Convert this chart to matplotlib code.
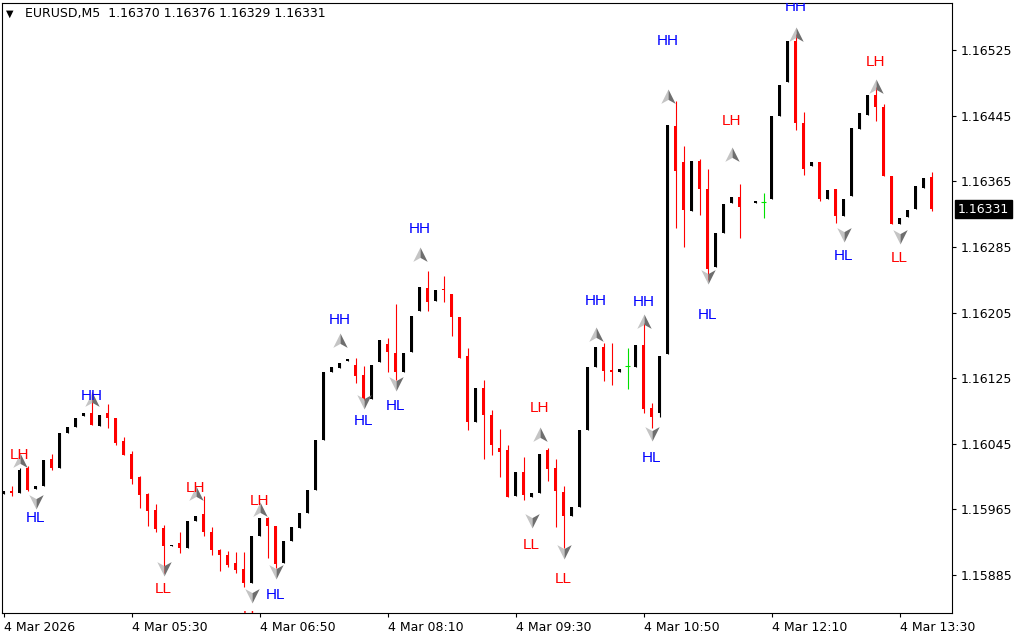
import matplotlib
matplotlib.use("Agg")
import matplotlib.pyplot as plt
from matplotlib.path import Path
from matplotlib.transforms import blended_transform_factory
import numpy as np

nan = float("nan")

# ---------------- data (EURUSD M5, 4 Mar 2026, from 04:10) ----------------
opens = [1.15984, 1.15987, 1.15985, 1.16016, 1.15990, 1.15993, 1.16027, 1.16016, 1.16058, 1.16066,
         1.16079, 1.16083, 1.16067, 1.16082, 1.16077, 1.16048, 1.16033, 1.16004, 1.15984, 1.15964,
         1.15942, 1.15920, 1.15924, 1.15918, 1.15951, 1.15959, 1.15937, 1.15915, 1.15910, 1.15900,
         1.15892, 1.15875, 1.15932, 1.15955, 1.15945, 1.15900, 1.15927, 1.15942, 1.15961, 1.15989,
         1.16050, 1.16132, 1.16137, 1.16146, 1.16141, 1.16129, 1.16100, 1.16145, 1.16167, 1.16156,
         1.16132, 1.16157, 1.16207, 1.16235, 1.16219, 1.16234, 1.16227, 1.16199, 1.16152, 1.16071,
         1.16113, 1.16080, 1.16040, 1.16037, 1.15981, 1.16011, 1.15980, 1.15985, 1.16037, 1.16015,
         1.15986, 1.15957, 1.15968, 1.16062, 1.16138, 1.16163, 1.16134, 1.16133, 1.16140, 1.16139,
         1.16165, 1.16088, 1.16083, 1.16154, 1.16432, 1.16388, 1.16329, 1.16390, 1.16355, 1.16260,
         1.16302, 1.16339, 1.16346, nan, 1.16338, 1.16340, 1.16343, 1.16445, 1.16486, 1.16536,
         1.16436, 1.16383, 1.16388, 1.16343, 1.16355, 1.16323, 1.16347, 1.16429, 1.16446, 1.16470,
         1.16456, 1.16371, 1.16313, 1.16321, 1.16331, 1.16357, 1.16370]
highs = [1.15987, 1.15993, 1.16015, 1.16018, 1.15993, 1.16025, 1.16033, 1.16058, 1.16066, 1.16076,
         1.16083, 1.16108, 1.16080, 1.16094, 1.16077, 1.16053, 1.16036, 1.16006, 1.15985, 1.15972,
         1.15946, 1.15922, 1.15938, 1.15951, 1.15957, 1.15981, 1.15943, 1.15917, 1.15914, 1.15913,
         1.15913, 1.15932, 1.15955, 1.15956, 1.15945, 1.15926, 1.15943, 1.15960, 1.15989, 1.16050,
         1.16132, 1.16138, 1.16143, 1.16148, 1.16149, 1.16140, 1.16141, 1.16171, 1.16174, 1.16215,
         1.16156, 1.16201, 1.16236, 1.16256, 1.16232, 1.16250, 1.16228, 1.16199, 1.16162, 1.16113,
         1.16123, 1.16086, 1.16063, 1.16044, 1.16011, 1.16029, 1.15985, 1.16033, 1.16040, 1.16026,
         1.15993, 1.15968, 1.16062, 1.16139, 1.16163, 1.16168, 1.16168, 1.16136, 1.16162, 1.16166,
         1.16192, 1.16095, 1.16152, 1.16434, 1.16463, 1.16408, 1.16390, 1.16392, 1.16380, 1.16302,
         1.16337, 1.16346, 1.16362, nan, 1.16341, 1.16351, 1.16445, 1.16482, 1.16536, 1.16545,
         1.16449, 1.16388, 1.16389, 1.16354, 1.16356, 1.16343, 1.16430, 1.16448, 1.16470, 1.16480,
         1.16459, 1.16371, 1.16320, 1.16330, 1.16359, 1.16369, 1.16376]
lows = [1.15984, 1.15981, 1.15985, 1.15988, 1.15990, 1.15993, 1.16013, 1.16016, 1.16058, 1.16066,
        1.16079, 1.16068, 1.16067, 1.16064, 1.16044, 1.16031, 1.15996, 1.15967, 1.15945, 1.15937,
        1.15887, 1.15920, 1.15912, 1.15918, 1.15951, 1.15933, 1.15909, 1.15890, 1.15895, 1.15888,
        1.15871, 1.15875, 1.15932, 1.15906, 1.15893, 1.15900, 1.15927, 1.15942, 1.15961, 1.15989,
        1.16050, 1.16132, 1.16137, 1.16146, 1.16119, 1.16098, 1.16100, 1.16145, 1.16132, 1.16123,
        1.16132, 1.16157, 1.16207, 1.16207, 1.16219, 1.16218, 1.16176, 1.16150, 1.16062, 1.16071,
        1.16026, 1.16031, 1.16005, 1.15980, 1.15981, 1.15976, 1.15980, 1.15985, 1.16000, 1.15943,
        1.15918, 1.15957, 1.15968, 1.16062, 1.16138, 1.16122, 1.16117, 1.16133, 1.16112, 1.16139,
        1.16082, 1.16064, 1.16078, 1.16154, 1.16308, 1.16285, 1.16329, 1.16324, 1.16245, 1.16260,
        1.16302, 1.16339, 1.16296, nan, 1.16338, 1.16320, 1.16343, 1.16445, 1.16486, 1.16428,
        1.16373, 1.16383, 1.16341, 1.16343, 1.16314, 1.16323, 1.16347, 1.16429, 1.16446, 1.16439,
        1.16371, 1.16313, 1.16313, 1.16321, 1.16331, 1.16357, 1.16329]
closes = [1.15987, 1.15985, 1.16013, 1.15989, 1.15993, 1.16025, 1.16016, 1.16058, 1.16066, 1.16076,
          1.16083, 1.16068, 1.16080, 1.16077, 1.16046, 1.16031, 1.16002, 1.15982, 1.15963, 1.15941,
          1.15920, 1.15922, 1.15918, 1.15951, 1.15957, 1.15937, 1.15915, 1.15909, 1.15897, 1.15891,
          1.15875, 1.15932, 1.15955, 1.15945, 1.15899, 1.15926, 1.15943, 1.15960, 1.15989, 1.16050,
          1.16132, 1.16138, 1.16143, 1.16148, 1.16128, 1.16100, 1.16141, 1.16171, 1.16157, 1.16132,
          1.16156, 1.16201, 1.16236, 1.16218, 1.16232, 1.16232, 1.16199, 1.16150, 1.16072, 1.16113,
          1.16080, 1.16043, 1.16035, 1.15980, 1.16011, 1.15982, 1.15985, 1.16033, 1.16014, 1.15988,
          1.15957, 1.15968, 1.16062, 1.16139, 1.16163, 1.16134, 1.16133, 1.16136, 1.16140, 1.16166,
          1.16087, 1.16078, 1.16152, 1.16434, 1.16377, 1.16330, 1.16390, 1.16355, 1.16258, 1.16302,
          1.16337, 1.16346, 1.16334, nan, 1.16341, 1.16340, 1.16445, 1.16482, 1.16536, 1.16436,
          1.16380, 1.16388, 1.16343, 1.16354, 1.16323, 1.16343, 1.16430, 1.16448, 1.16470, 1.16456,
          1.16371, 1.16313, 1.16320, 1.16330, 1.16359, 1.16369, 1.16331]

# swing labels (zigzag HH/HL/LH/LL indicator)
swing_labels = ["LH", "HL", "HH", "LL", "LH", "LL", "LH", "HL", "HH", "HL", "HH", "HL", "LH",
                "LL", "LL", "HH", "HH", "HL", "HH", "LH", "HL", "HH", "LH", "HL", "LL"]
swing_bars = [2, 4, 11, 20, 24, 31, 32, 34, 42, 45, 52, 49, 67, 66, 70, 74, 80, 81, 83, 91, 88,
              99, 109, 105, 112]
swing_arrow_price = [1.16024, 1.15975, 1.16098, 1.15894, 1.15984, 1.15861, 1.15964, 1.15890,
                     1.16170, 1.16097, 1.16275, 1.16119, 1.16056, 1.15952, 1.15914, 1.16178,
                     1.16193, 1.16058, 1.16468, 1.16397, 1.16250, 1.16543, 1.16480, 1.16301, 1.16298]
swing_text_price = [1.16031, 1.15955, 1.16103, 1.15868, 1.15991, 1.15834, 1.15975, 1.15861,
                    1.16196, 1.16073, 1.16307, 1.16091, 1.16089, 1.15922, 1.15880, 1.16219,
                    1.16218, 1.16028, 1.16536, 1.16438, 1.16202, 1.16577, 1.16510, 1.16274, 1.16271]

price_ticks = [1.16525, 1.16445, 1.16365, 1.16285, 1.16205, 1.16125, 1.16045, 1.15965, 1.15885]
time_tick_bars = [0, 16, 32, 48, 64, 80, 96, 112]
time_tick_labels = ["4 Mar 2026", "4 Mar 05:30", "4 Mar 06:50", "4 Mar 08:10",
                    "4 Mar 09:30", "4 Mar 10:50", "4 Mar 12:10", "4 Mar 13:30"]
header = "EURUSD,M5  1.16370 1.16376 1.16329 1.16331"
last_price = 1.16331

# ---------------- figure ----------------
W, H = 1024, 640
fig = plt.figure(figsize=(W / 100, H / 100), dpi=100)
ax = fig.add_axes([2 / W, (H - 613) / H, 950 / W, 610 / H])
ax.set_xlim(-0.19, 118.56)
ax.set_ylim(1.158387, 1.165823)

px = (1.165823 - 1.158387) / 610.0  # one pixel in price units
for i in range(len(opens)):
    o, h, l, c = opens[i], highs[i], lows[i], closes[i]
    if np.isnan(o):
        continue
    if c > o:
        col = "black"
    elif c < o:
        col = "#ff0000"
    else:
        col = "#00e000"
    ax.vlines(i, l, h, color=col, lw=0.8, zorder=2)
    if c == o:
        ax.hlines(o, i - 0.3, i + 0.3, color=col, lw=0.8, zorder=2)
    else:
        ax.bar(i, max(abs(c - o), 1.5 * px), bottom=min(o, c), width=0.42, color=col,
               lw=0, zorder=3, antialiased=False)

# arrow markers (two-tone arrowheads)
up_left = Path([(0, 1), (-0.9, -0.8), (0, -0.3), (0, 1)])
up_right = Path([(0, 1), (0, -0.3), (0.9, -0.8), (0, 1)])
dn_left = Path([(0, -1), (-0.9, 0.8), (0, 0.3), (0, -1)])
dn_right = Path([(0, -1), (0, 0.3), (0.9, 0.8), (0, -1)])

for lab, b, ap, tp in zip(swing_labels, swing_bars, swing_arrow_price, swing_text_price):
    up = lab in ("HH", "LH")
    ml, mr = (up_left, up_right) if up else (dn_left, dn_right)
    ax.plot([b], [ap], marker=ml, ms=11.5, color="#c4c4c4", mew=0, ls="none", zorder=4)
    ax.plot([b], [ap], marker=mr, ms=11.5, color="#6e6e6e", mew=0, ls="none", zorder=4)
    col = "#0000ff" if lab in ("HH", "HL") else "#ff0000"
    ax.text(b, tp, lab, color=col, fontsize=11, family="Liberation Sans",
            ha="center", va="center", zorder=5, clip_on=True)

# axes styling
for s in ax.spines.values():
    s.set_linewidth(0.8)
    s.set_color("black")
ax.yaxis.tick_right()
ax.set_yticks(price_ticks)
ax.set_yticklabels([f"{p:.5f}" for p in price_ticks])
ax.tick_params(axis="y", direction="out", length=3, width=0.8, labelsize=9, pad=3)
ax.set_xticks(time_tick_bars)
ax.set_xticklabels(time_tick_labels)
ax.tick_params(axis="x", direction="out", length=3, width=0.8, labelsize=9, pad=3)
for lbl in ax.get_xticklabels():
    lbl.set_ha("left")

# current price box
tr = blended_transform_factory(ax.transAxes, ax.transData)
ax.text(1.006, last_price, f"{last_price:.5f}", transform=tr, ha="left", va="center",
        color="white", fontsize=9, clip_on=False, zorder=6,
        bbox=dict(boxstyle="square,pad=0.22", fc="black", ec="black"))

# header
fig.text(6 / W, 1 - 14 / H, "\u25bc", fontsize=7, va="center", ha="left", color="black")
fig.text(25 / W, 1 - 14 / H, header, fontsize=9, va="center", ha="left", color="black")

fig.savefig("out.png", dpi=100, facecolor="white")
